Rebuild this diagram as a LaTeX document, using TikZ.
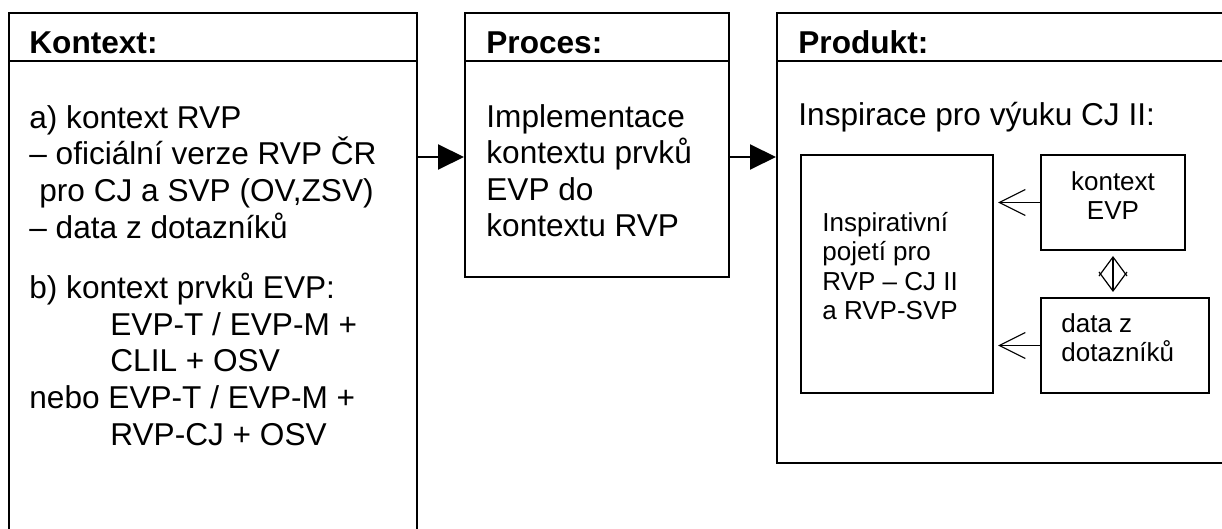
\documentclass[tikz,border=0pt]{standalone}
\usepackage{fontspec}
\setmainfont{Liberation Sans}
\usetikzlibrary{arrows.meta,positioning,calc}
\newcommand{\bigtxt}{\fontsize{15.8}{18.3}\selectfont}
\newcommand{\smalltxt}{\fontsize{13}{14.8}\selectfont}

\begin{document}
\begin{tikzpicture}[x=0.5pt,y=-0.5pt,
  box/.style={draw,line width=1pt,inner sep=0pt},
  txt/.style={inner sep=0pt,anchor=base west,align=left,font=\bigtxt},
  smalltext/.style={inner sep=0pt,anchor=base west,align=left,font=\smalltxt}]
\useasboundingbox (0,0) rectangle (1222,529);
\clip (0,0) rectangle (1222,529);
\coordinate (head) at (0,61);
\coordinate (flow) at (0,157);

% Main boxes
\node[box,minimum width=204pt,minimum height=293pt] (kontext) at (213,306) {};
\node[box,minimum width=132pt,minimum height=132pt] (proces) at (597,145) {};
\node[box,minimum width=241.5pt,minimum height=225pt] (produkt) at (1018.5,238) {};
\foreach \b in {kontext,proces,produkt}
  \draw[line width=1pt] (\b.west |- head) -- (\b.east |- head);

% Headers
\node[txt,font=\bigtxt\bfseries] (kontexthead) at (29,54) {Kontext:};
\node[txt,font=\bigtxt\bfseries] (proceshead) at (486,54) {Proces:};
\node[txt,font=\bigtxt\bfseries] (produkthead) at (798,54) {Produkt:};

% Box contents (multi-line nodes sit on their last baseline)
\node[txt] (kontexttext) at (29,445) {a) kontext RVP\\
  – oficiální verze RVP ČR\\
  \hspace{5pt}pro CJ a SVP (OV,ZSV)\\
  – data z dotazníků\\[12pt]
  b) kontext prvků EVP:\\
  \hspace{40.5pt}EVP-T / EVP-M +\\
  \hspace{40.5pt}CLIL + OSV\\
  nebo EVP-T / EVP-M +\\
  \hspace{40.5pt}RVP-CJ + OSV};
\node[txt] (procestext) at (486,237) {Implementace\\kontextu prvků\\EVP do\\kontextu RVP};
\node[txt] (produkttext) at (798,126) {Inspirace pro výuku CJ II:};

% Inner boxes of the product
\node[box,minimum width=96pt,minimum height=119pt] (inspirace) at (897,274) {};
\node[box,minimum width=72pt,minimum height=47.5pt] (evp) at (1113,202.5) {};
\node[box,minimum width=84pt,minimum height=47.5pt] (dotazniky) at (1125,345.5) {};
\node[smalltext] (inspiracetext) at (822,320) {Inspirativní\\pojetí pro\\RVP – CJ II\\a RVP-SVP};
\node[smalltext,anchor=base,align=center] (evptext) at (1113,220) {kontext\\EVP};
\node[smalltext] (dotaznikytext) at (1061,362) {data z\\dotazníků};

% Flow arrows
\draw[line width=1pt,-{Triangle[length=13pt,width=12.5pt]}] (kontext.east |- flow) -- (proces.west |- flow);
\draw[line width=1pt,-{Triangle[length=13pt,width=12.5pt]}] (proces.east |- flow) -- (produkt.west |- flow);
\draw[line width=0.6pt,-{Straight Barb[length=13pt,width=13pt]}] (evp.west) -- ([xshift=2pt]inspirace.east |- evp.west);
\draw[line width=0.6pt,-{Straight Barb[length=13pt,width=13pt]}] (dotazniky.west) -- ([xshift=2pt]inspirace.east |- dotazniky.west);
\draw[line width=0.6pt,shorten <=2.5pt,shorten >=2.5pt,
  {Straight Barb[length=9.5pt,width=14pt]}-{Straight Barb[length=9.5pt,width=14pt]}]
  (evp.south) -- (dotazniky.north -| evp.south);
\end{tikzpicture}
\end{document}
